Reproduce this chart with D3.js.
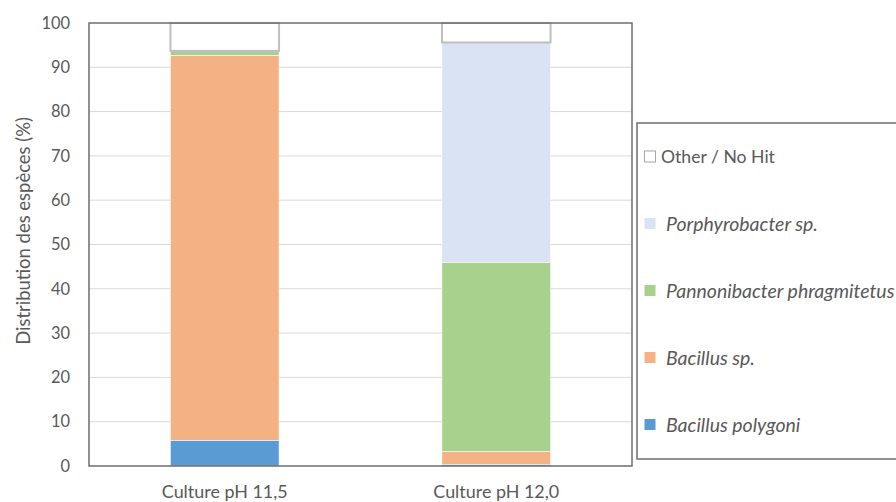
<!DOCTYPE html>
<html>
<head>
<meta charset="utf-8">
<script src="https://cdn.jsdelivr.net/npm/d3@7"></script>
<style>
  html, body { margin: 0; padding: 0; background: #fff; }
  svg { display: block; }
  text { font-family: Lato, "Open Sans", sans-serif; fill: #595959; }
</style>
</head>
<body>
<svg id="chart" width="896" height="502"></svg>
<script>
const categories = ["Culture pH 11,5", "Culture pH 12,0"];
const seriesNames = ["Bacillus polygoni", "Bacillus sp.", "Pannonibacter phragmitetus", "Porphyrobacter sp.", "Other / No Hit"];
const bacillusPolygoni = [5.8, 0.4];
const bacillusSp = [86.9, 2.9];
const pannonibacter = [1.0, 42.7];
const porphyrobacter = [0.0, 49.6];
const otherNoHit = [6.3, 4.4];
const yTicks = [0, 10, 20, 30, 40, 50, 60, 70, 80, 90, 100];
const colors = ["#5B9BD5", "#F4B183", "#A9D18E", "#DAE3F3", "#FFFFFF"];
const italic = [true, true, true, true, false];

const seriesValues = [bacillusPolygoni, bacillusSp, pannonibacter, porphyrobacter, otherNoHit];
const rows = categories.map((c, i) => {
  const r = { cat: c };
  seriesNames.forEach((s, j) => r[s] = seriesValues[j][i]);
  return r;
});

// scale a group of texts so that a reference text reaches the target width
function fitSize(sel, refNode, target) {
  const base = 16;
  sel.style("font-size", base + "px");
  const w = refNode.getComputedTextLength();
  const size = base * target / w;
  sel.style("font-size", size.toFixed(2) + "px");
  return size;
}

const svg = d3.select("#chart");
const m = { left: 89, right: 632, top: 23, bottom: 466 };

const x = d3.scaleBand().domain(categories).range([m.left, m.right]).paddingInner(0.6).paddingOuter(0.3);
const y = d3.scaleLinear().domain([0, 100]).range([m.bottom, m.top]);

// gridlines
svg.append("g").selectAll("line").data(yTicks.filter(t => t > 0 && t < 100)).join("line")
  .attr("x1", m.left).attr("x2", m.right)
  .attr("y1", d => y(d)).attr("y2", d => y(d))
  .attr("stroke", "#d9d9d9").attr("stroke-width", 1);

// stacked bars
const stack = d3.stack().keys(seriesNames)(rows);
const gBars = svg.append("g");
stack.forEach((layer, j) => {
  gBars.append("g").selectAll("rect").data(layer.filter(d => d[1] - d[0] > 0)).join("rect")
    .attr("x", d => x(d.data.cat))
    .attr("width", x.bandwidth())
    .attr("y", d => y(d[1]))
    .attr("height", d => y(d[0]) - y(d[1]))
    .attr("fill", colors[j])
    .attr("stroke", j === 4 ? "#bfbfbf" : "#ffffff")
    .attr("stroke-width", j === 4 ? 2 : 0.5);
});

// frame
svg.append("rect")
  .attr("x", m.left).attr("y", m.top)
  .attr("width", m.right - m.left).attr("height", m.bottom - m.top)
  .attr("fill", "none").attr("stroke", "#6e6e6e").attr("stroke-width", 1.5);

// y axis
const yAxis = svg.append("g").attr("transform", `translate(${m.left},0)`)
  .call(d3.axisLeft(y).tickValues(yTicks).tickSize(0).tickPadding(19));
yAxis.select(".domain").remove();
const yt = yAxis.selectAll("text").attr("fill", "#595959")
  .style("font-family", "Lato, 'Open Sans', sans-serif");
fitSize(yt, yt.filter(d => d === 100).node(), 28.6);

// x axis labels
const xAxis = svg.append("g").attr("transform", `translate(0,${m.bottom})`)
  .call(d3.axisBottom(x).tickSize(0).tickPadding(19));
xAxis.select(".domain").remove();
const xt = xAxis.selectAll("text").attr("fill", "#595959")
  .style("font-family", "Lato, 'Open Sans', sans-serif");
fitSize(xt, xt.node(), 126);

// y title
const title = svg.append("text")
  .attr("transform", `translate(30,231) rotate(-90)`)
  .attr("text-anchor", "middle")
  .text("Distribution des espèces (%)");
fitSize(title, title.node(), 228);

// legend
svg.append("rect").attr("x", 637).attr("y", 123).attr("width", 300).attr("height", 336)
  .attr("fill", "#fff").attr("stroke", "#6e6e6e").attr("stroke-width", 1.5);
const legendOrder = [4, 3, 2, 1, 0];
const lg = svg.append("g").selectAll("g").data(legendOrder).join("g")
  .attr("transform", (d, i) => `translate(644,${156.5 + i * 67})`);
lg.append("rect").attr("x", 0.5).attr("y", -5.5).attr("width", 11).attr("height", 11)
  .attr("fill", d => colors[d])
  .attr("stroke", d => d === 4 ? "#a6a6a6" : "none").attr("stroke-width", 1);
const lt = lg.append("text")
  .attr("x", d => italic[d] ? 22 : 17)
  .attr("y", 0).attr("dy", "0.36em")
  .style("font-style", d => italic[d] ? "italic" : "normal")
  .text(d => seriesNames[d]);
fitSize(lt.filter(d => !italic[d]), lt.filter(d => !italic[d]).node(), 114);
fitSize(lt.filter(d => italic[d]), lt.filter(d => d === 3).node(), 152);
</script>
</body>
</html>
